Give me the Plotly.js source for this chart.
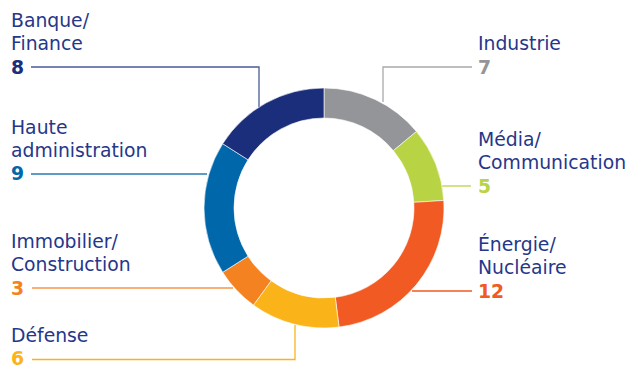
<!DOCTYPE html>
<html>
<head>
<meta charset="utf-8">
<script src="https://cdn.plot.ly/plotly-3.0.1.min.js"></script>
<style>html,body{margin:0;padding:0;background:#fff;}#chart{width:631px;height:371px;}</style>
</head>
<body>
<div id="chart"></div>
<script>
// ---- data ----
const sectors = ['Industrie', 'Média/Communication', 'Énergie/Nucléaire', 'Défense', 'Immobilier/Construction', 'Haute administration', 'Banque/Finance'];
const counts = [7, 5, 12, 6, 3, 9, 8];
const labelLines = [['Industrie'], ['Média/', 'Communication'], ['Énergie/', 'Nucléaire'], ['Défense'], ['Immobilier/', 'Construction'], ['Haute', 'administration'], ['Banque/', 'Finance']];

// ---- style ----
const colors = ['#939598', '#b8d444', '#f15a22', '#fab41a', '#f58220', '#0068aa', '#1b2e7b'];
const lineColors = ['#a7a9ac', '#b8d444', '#f15a22', '#fab41a', '#f7964a', '#2a78b4', '#4a5a99'];
const textColor = '#26378a';
const W = 631, H = 371;
const FONT = 'DejaVu Sans, sans-serif';
const FS = 18.8, LH = 23.3;

// label placement (pixels): x of text, y of number line; leader path points
const place = [
  {x: 477, y: 67, path: [[472, 67], [383, 67], [383, 102]]},
  {x: 477, y: 186, path: [[471, 186], [442, 186]]},
  {x: 477, y: 291, path: [[472, 291], [412, 291]]},
  {x: 10, y: 358.5, path: [[32, 359.5], [295, 359.5], [295, 325]]},
  {x: 10, y: 288, path: [[32, 288], [233, 288]]},
  {x: 10, y: 174, path: [[31, 174], [207, 174]]},
  {x: 10, y: 67, path: [[31, 67], [259, 67], [259, 107]]}
];

const px = x => x / W;
const py = y => 1 - y / H;

const annotations = [];
const shapes = [];
sectors.forEach((s, i) => {
  const p = place[i];
  const lines = labelLines[i];
  lines.forEach((t, j) => {
    annotations.push({
      xref: 'paper', yref: 'paper', x: px(p.x), y: py(p.y - LH * (lines.length - j)),
      xanchor: 'left', yanchor: 'middle', showarrow: false, text: t,
      font: {family: FONT, size: FS, color: textColor}, borderpad: 0
    });
  });
  annotations.push({
    xref: 'paper', yref: 'paper', x: px(p.x), y: py(p.y),
    xanchor: 'left', yanchor: 'middle', showarrow: false, text: '<b>' + counts[i] + '</b>',
    font: {family: FONT, size: FS, color: colors[i], weight: 800}, borderpad: 0
  });
  const d = p.path.map((pt, k) => (k === 0 ? 'M' : 'L') + px(pt[0]) + ',' + py(pt[1])).join(' ');
  shapes.push({type: 'path', xref: 'paper', yref: 'paper', path: d, line: {color: lineColors[i], width: 1.3}, layer: 'below'});
});

const cx = 324, cy = 208, R = 120;
const trace = {
  type: 'pie',
  labels: sectors,
  values: counts,
  sort: false,
  direction: 'clockwise',
  rotation: 0,
  hole: 0.75,
  textinfo: 'none',
  hoverinfo: 'label+value',
  marker: {colors: colors, line: {color: '#ffffff', width: 0.6}},
  domain: {x: [px(cx - R), px(cx + R)], y: [py(cy + R), py(cy - R)]},
  showlegend: false
};

Plotly.newPlot('chart', [trace], {
  width: W, height: H,
  margin: {l: 0, r: 0, t: 0, b: 0},
  paper_bgcolor: '#ffffff',
  plot_bgcolor: '#ffffff',
  showlegend: false,
  annotations: annotations,
  shapes: shapes
}, {displayModeBar: false, staticPlot: true});
</script>
</body>
</html>
